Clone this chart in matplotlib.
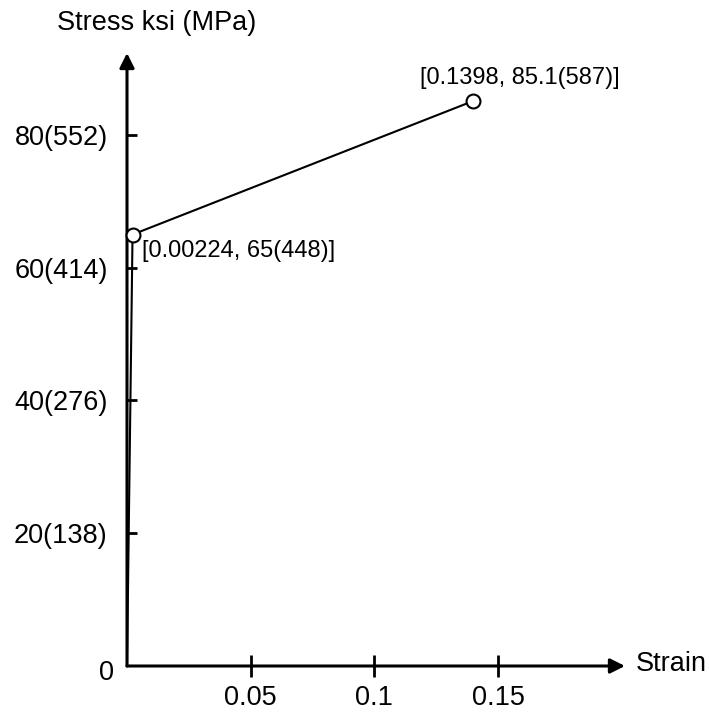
import matplotlib
matplotlib.use("Agg")
import matplotlib.pyplot as plt

plt.rcParams['font.family'] = ['Liberation Sans', 'DejaVu Sans']

# bilinear stress-strain curve
strain = [0, 0.00224, 0.1398]
stress_ksi = [0, 65, 85.1]
stress_mpa = [0, 448, 587]
point_labels = ["[0.00224, 65(448)]", "[0.1398, 85.1(587)]"]

x_ticks = [0.05, 0.1, 0.15]
x_tick_labels = ["0.05", "0.1", "0.15"]
y_ticks = [20, 40, 60, 80]
y_tick_labels = ["20(138)", "40(276)", "60(414)", "80(552)"]

W, H = 709, 715
fig = plt.figure(figsize=(W / 100, H / 100), dpi=100)
ax = fig.add_axes([127 / W, (H - 666) / H, (625 - 127) / W, (666 - 53) / H])

xmax, ymax = 0.2013, 92.35
ax.set_xlim(0, xmax)
ax.set_ylim(0, ymax)
for s in ax.spines.values():
    s.set_visible(False)

# axes drawn as arrows
arrow = dict(arrowstyle='-|>', lw=2.2, color='black', mutation_scale=22,
             shrinkA=0, shrinkB=0)
ax.annotate('', xy=(xmax, 0), xytext=(0, 0), arrowprops=arrow, annotation_clip=False)
ax.annotate('', xy=(0, ymax), xytext=(0, 0), arrowprops=arrow, annotation_clip=False)

ax.plot(strain, stress_ksi, color='black', lw=1.5, marker='o', markevery=[1, 2],
        markersize=10, markerfacecolor='white', markeredgewidth=1.5, clip_on=False, zorder=5)

ax.annotate(point_labels[0], xy=(strain[1], stress_ksi[1]), xytext=(7, -12),
            textcoords='offset points', ha='left', va='center', fontsize=17)
ax.annotate(point_labels[1], xy=(strain[2], stress_ksi[2]), xytext=(-38, 17),
            textcoords='offset points', ha='left', va='center', fontsize=17)

ax.set_xticks(x_ticks)
ax.set_xticklabels(x_tick_labels)
ax.set_yticks(y_ticks)
ax.set_yticklabels(y_tick_labels)
ax.tick_params(axis='x', direction='inout', length=16, width=2, pad=6, labelsize=19.5)
ax.tick_params(axis='y', direction='in', length=7, width=2, pad=14, labelsize=19.5)

ax.annotate('0', xy=(0, 0), xytext=(-9, -5), textcoords='offset points',
            ha='right', va='center', fontsize=19.5, annotation_clip=False)

fig.text(157 / W, 1 - 23 / H, 'Stress ksi (MPa)', ha='center', va='center', fontsize=19.5)
fig.text(636 / W, 1 - 664 / H, 'Strain', ha='left', va='center', fontsize=19.5)

fig.savefig('out.png', dpi=100)
